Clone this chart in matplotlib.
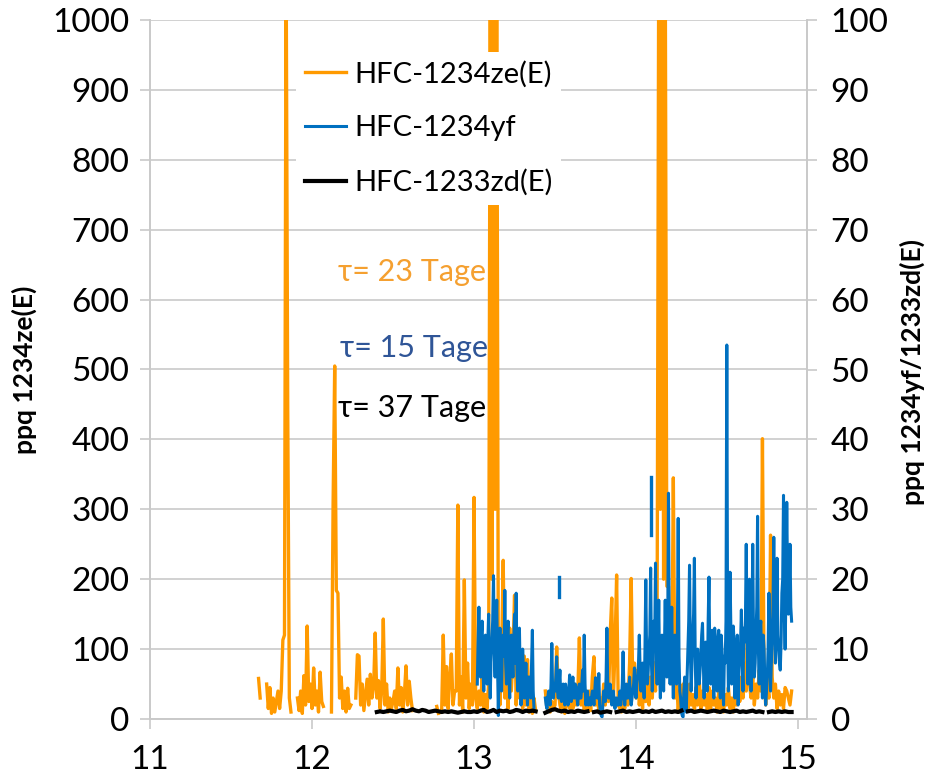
import numpy as np
import matplotlib
matplotlib.use("Agg")
import matplotlib.pyplot as plt

nan = np.nan

# HFC-1234ze(E), ppq (left axis), sampled every 0.01 from 11.60
ze_start, ze_step = 11.60, 0.01
ze_vals = [
    nan, nan, nan, nan, nan, nan, nan, 58, 30, nan,          # 11.6
    nan, nan, 50, 15, 45, 8, 30, 10, 25, 40,                 # 11.7
    15, 40, 113, 120, 1100, 445, 30, 10, nan, nan,           # 11.8
    nan, 30, 12, 40, 8, 62, 20, 133, 25, 50,                 # 11.9
    15, 73, 20, 40, 10, 67, 25, 18, nan, nan,                # 12.0
    nan, nan, 10, 306, 505, 184, 180, 30, 60, 15,            # 12.1
    40, 10, 44, 15, 20, nan, nan, 30, 92, 90,                # 12.2
    20, 50, 12, 35, 57, 20, 64, 30, 45, 123,                 # 12.3
    30, 55, 15, 40, 143, 20, 50, 10, 30, 15,                 # 12.4
    25, 40, 15, 73, 20, 45, 10, 35, 76, 20,                  # 12.5
    54, 30, 12, nan, nan, nan, nan, nan, nan, nan,           # 12.6
    nan, nan, nan, nan, nan, nan, nan, 18, 8, nan,           # 12.7
    10, 120, 20, 75, 15, 60, 93, 20, 40, 40,                 # 12.8
    306, 20, 60, 10, 199, 30, 80, 15, 50, 20,                # 12.9
    317, 30, 15, 40, 20, 60, 10, 35, 15, 50,                 # 13.0
    1100, 200, 1100, 300, 1100, 60, 20, 90, 227, 30,         # 13.1
    60, 15, 130, 40, 90, 177, 20, 95, 30, 70,                # 13.2
    15, 90, 20, 85, 10, 40, 8, 30, 12, nan,                  # 13.3
    nan, nan, nan, nan, 40, 15, 30, 10, 25, 15,              # 13.4
    20, 103, 40, 20, 10, 30, 8, 20, 40, 15,                  # 13.5
    45, 15, 50, 20, 35, 116, 20, 40, 10, 30,                 # 13.6
    15, 40, 12, 60, 89, 20, 40, 10, 30, 15,                  # 13.7
    50, 20, 60, 25, 120, 173, 30, 100, 206, 20,              # 13.8
    15, 10, 30, 15, 45, 20, 80, 201, 40, 80,                 # 13.9
    30, 70, 20, 50, 15, 60, 25, 70, 20, 60,                  # 14.0
    30, 80, 40, 150, 1100, 300, 1100, 200, 1100, 190,        # 14.1
    190, 60, 50, 345, 30, 60, 10, 40, 15, 50,                # 14.2
    20, 40, 15, 50, 20, 35, 10, 45, 20, 55,                  # 14.3
    15, 40, 20, 35, 10, 45, 15, 40, 20, 30,                  # 14.4
    10, 40, 15, 30, 10, 35, 20, 45, 15, 30,                  # 14.5
    10, 40, 20, 50, 25, 60, 30, 80, 40, 187,                 # 14.6
    50, 30, 60, 20, 50, 30, 70, 40, 401, 60,                 # 14.7
    20, 50, 30, 263, 60, 30, 50, 15, 40, 20,                 # 14.8
    35, 15, 45, 40, 30, 20, 40,                              # 14.9
]

# HFC-1234yf, ppq (right axis): readings on the 0.01 grid from 13.00 ...
yf_start, yf_step = 13.00, 0.01
yf_vals = [
    nan, nan, 5, 16, 6, 14, 4, 12, 5, 15,                    # 13.0
    3, 11, 20.5, 6, 17, 0.5, 13, 4, 12, 18.4,                # 13.1
    5, 14, 3, 12, 6, 15, 18, 4, 13, 2,                       # 13.2
    10, 3, 8, 2, 6, 3, 12.7, 1.5, nan, nan,                  # 13.3
    nan, nan, nan, nan, 3, 1.5, 4, 2, 10.8, 3,               # 13.4
    4, 8.9, 3, 7, 2.5, 5, 2, 4, 2, 6.3,                      # 13.5
    2.5, 6, 3, 4.5, 2, 5, 3, 7, 12, 2,                       # 13.6
    4, 3, 2, 4, 2, 5.9, 3, 6.5, 1, 0.3,                      # 13.7
    4, 2.5, 13, 3, 5, 2, 4, 1.5, 3, 2,                       # 13.8
    4, 3, 9.6, 2, 5, 3, 6, 2, 4, 7.3,                        # 13.9
    3, 6, 12, 4, 8, 3, 19.9, 5, 10, 21.6,                    # 14.0
    4, 14, 22.3, 5, 17, 3, 12, 4, 17, 6,                     # 14.1
    32.3, 5, 16, 3, 12, 5, 28.7, 4, 1, 0.3,                  # 14.2
    6, 1, 10, 22, 4, 12, 23, 3, 10, 5,                       # 14.3
    9, 13.7, 3, 11, 4, 20.3, 5, 12.7, 3, 11,                 # 14.4
    4, 12.7, 3, 10, 2, 8, 53.5, 4, 21, 5,                    # 14.5
    13.3, 3, 10, 2, 9, 15.6, 4, 11, 25, 5,                   # 14.6
    20, 4, 25, 6, 12, 29, 5, 14, 3, 10,                      # 14.7
    2, 6, 18, 4, 12, 26, 8, 23, 10, 7,                       # 14.8
    18, 32, 10, 31, 15, 25, 14,                              # 14.9
]
# ... and the readings half a step later (13.005, 13.015, ...)
yf_half = [
    nan, nan, 11, 8, 12, 7, 10, 6, 11, 7,                    # 13.0
    9, 14, 9, 12, 8, 10, 6, 11, 9, 8,                        # 13.1
    12, 7, 10, 9, 11, 8, 7, 10, 6, 5,                        # 13.2
    7, 5, 4, 6, 4, 8, 4, nan, nan, nan,                      # 13.3
    nan, nan, nan, nan, 2, 3, 2.5, 5, 4, 5,                  # 13.4
    6, 4, 5, 3, 4, 3, 5, 3, 4, 3,                            # 13.5
    4, 3, 5, 3, 4, 3, 5, 4, 5, 3,                            # 13.6
    2, 3, 3, 3, 4, 4, 3, 2, 0.5, 2,                          # 13.7
    3, 6, 5, 4, 3, 3, 2, 3, 2, 3,                            # 13.8
    2, 5, 4, 4, 3, 4, 3, 3, 5, 4,                            # 13.9
    5, 8, 7, 6, 5, 10, 9, 7, 12, 8,                          # 14.0
    9, 11, 8, 10, 7, 9, 8, 10, 9, 11,                        # 14.1
    12, 9, 8, 10, 8, 12, 9, 3, 0.5, 4,                       # 14.2
    3, 6, 14, 10, 8, 15, 9, 6, 8, 7,                         # 14.3
    12, 8, 9, 6, 14, 9, 10, 6, 13, 8,                        # 14.4
    11, 7, 12, 5, 9, 14, 12, 10, 13, 8,                      # 14.5
    11, 6, 12, 7, 11, 8, 13, 14, 12, 10,                     # 14.6
    14, 12, 11, 8, 16, 10, 13, 7, 12, 5,                     # 14.7
    4, 10, 13, 8, 16, 13, 14, 12, 8, 11,                     # 14.8
    20, 15, 18, 20, 18, 16,                                  # 14.9
]
# two short detached 1234yf pieces
yf_piece1_x = [13.525, 13.525]
yf_piece1_y = [17.4, 20.3]
yf_piece2_x = [14.09, 14.09]
yf_piece2_y = [26.3, 34.6]

# HFC-1233zd(E), ppq (right axis), every 0.02 from 12.40
zd_start, zd_step = 12.40, 0.02
zd_vals = [
    1.0, 1.1, 1.0, 1.1, 1.2, 1.1, 1.0, 1.2, 1.3, 1.1,
    1.2, 1.4, 1.2, 1.1, 1.3, 1.2, 1.0, 1.1, 1.2, 1.1,
    1.0, 1.1, 1.0, 1.1, 1.0, 0.9, 1.0, 1.1, 1.0, 1.0,
    1.1, 1.0, 1.2, 1.3, 1.0, 1.1, 1.3, 1.0, 1.2, 1.1,
    1.2, 1.0, 1.1, 1.3, 1.2, 1.0, 1.2, 1.1, 1.2, 1.1,
    nan, nan, 0.9, 1.1, 1.3, 1.4, 1.2, 1.1, 1.2, 1.0,
    1.1, 1.0, 1.2, 1.1, 1.0, 1.1, nan, 1.0, 1.1, 0.9,
    1.0, 1.1, 1.0, nan, 1.0, 1.1, 1.2, 1.0, 1.1, 1.0,
    1.1, 1.2, 1.0, 1.1, 1.0, 1.2, 1.0, 1.1, 1.2, 1.0,
    1.1, 1.0, 1.1, 1.0, 1.2, nan, 1.1, 1.2, 1.0, 1.1,
    1.2, 1.1, 1.0, 1.1, 1.2, 1.1, 1.0, 1.2, 1.1, 1.0,
    1.1, 1.2, 1.0, 1.1, 1.0, 1.1, 1.2, 1.0, 1.1, 1.0,
    nan, 1.0, 1.1, 1.0, 1.1, 1.0, 1.1, 1.0, 1.0,
]

x_ticks = [11, 12, 13, 14, 15]
left_ticks = list(range(0, 1001, 100))
right_ticks = list(range(0, 101, 10))
labels = ["HFC-1234ze(E)", "HFC-1234yf", "HFC-1233zd(E)"]
notes = ["τ= 23 Tage", "τ= 15 Tage", "τ= 37 Tage"]

ORANGE = "#FF9A00"
BLUE = "#0070C0"
GRID = "#C9C9C9"

plt.rcParams["font.family"] = ["Lato", "DejaVu Sans"]

ze_x = ze_start + ze_step * np.arange(len(ze_vals))
zd_x = zd_start + zd_step * np.arange(len(zd_vals))

# merge the two 1234yf reading sets into one time-ordered series
yf_on_x = yf_start + yf_step * np.arange(len(yf_vals))
yf_half_x = yf_on_x[:len(yf_half)] + yf_step / 2
yf_x = np.concatenate([yf_on_x, yf_half_x])
yf_y = np.concatenate([yf_vals, yf_half])
order = np.argsort(yf_x)
yf_x, yf_y = yf_x[order], yf_y[order]

fig = plt.figure(figsize=(9.35, 7.81), dpi=100)
ax = fig.add_axes([150 / 935, 62 / 781, 657 / 935, 699 / 781])
ax2 = ax.twinx()

l1, = ax.plot(ze_x, ze_vals, color=ORANGE, lw=2.4, label=labels[0])
l2, = ax2.plot(yf_x, yf_y, color=BLUE, lw=2.2, label=labels[1])
ax2.plot(yf_piece1_x, yf_piece1_y, color=BLUE, lw=2.4)
ax2.plot(yf_piece2_x, yf_piece2_y, color=BLUE, lw=2.4)
l3, = ax2.plot(zd_x, zd_vals, color="black", lw=3.0, label=labels[2])

ax.set_xlim(11, 15.055)
ax.set_ylim(0, 1000)
ax2.set_ylim(0, 100)
ax.set_xticks(x_ticks)
ax.set_yticks(left_ticks)
ax2.set_yticks(right_ticks)

ax.grid(axis="y", color=GRID, lw=1.2)
ax.set_axisbelow(True)

for a in (ax, ax2):
    for s in a.spines.values():
        s.set_color(GRID)
        s.set_linewidth(1.2)
    a.spines["top"].set_visible(False)
ax.tick_params(axis="both", direction="out", length=7, width=1.2, color=GRID,
               labelsize=24, pad=8)
ax.tick_params(axis="x", pad=12)
ax2.tick_params(axis="y", direction="out", length=7, width=1.2, color=GRID,
                labelsize=24, pad=10)

fig.text(24 / 935, 1 - 370 / 781, "ppq 1234ze(E)", rotation=90, ha="center",
         va="center", fontsize=19, fontweight="bold")
fig.text(912 / 935, 1 - 372 / 781, "ppq 1234yf/1233zd(E)", rotation=90,
         ha="center", va="center", fontsize=19, fontweight="bold")

ax.text(12.16, 640, notes[0], color="#F5A030", fontsize=22, va="center")
ax.text(12.17, 531, notes[1], color="#2F5597", fontsize=22, va="center")
ax.text(12.16, 445, notes[2], color="black", fontsize=22, va="center")

leg = ax2.legend([l1, l2, l3], labels, loc="upper left",
                 bbox_to_anchor=(296 / 935, 1 - 52 / 781),
                 bbox_transform=fig.transFigure, fontsize=21,
                 frameon=True, facecolor="white", edgecolor="none",
                 framealpha=1, fancybox=False, handlelength=1.4,
                 handletextpad=0.3, labelspacing=0.95, borderpad=0.3,
                 borderaxespad=0)

fig.savefig("out.png", dpi=100)
